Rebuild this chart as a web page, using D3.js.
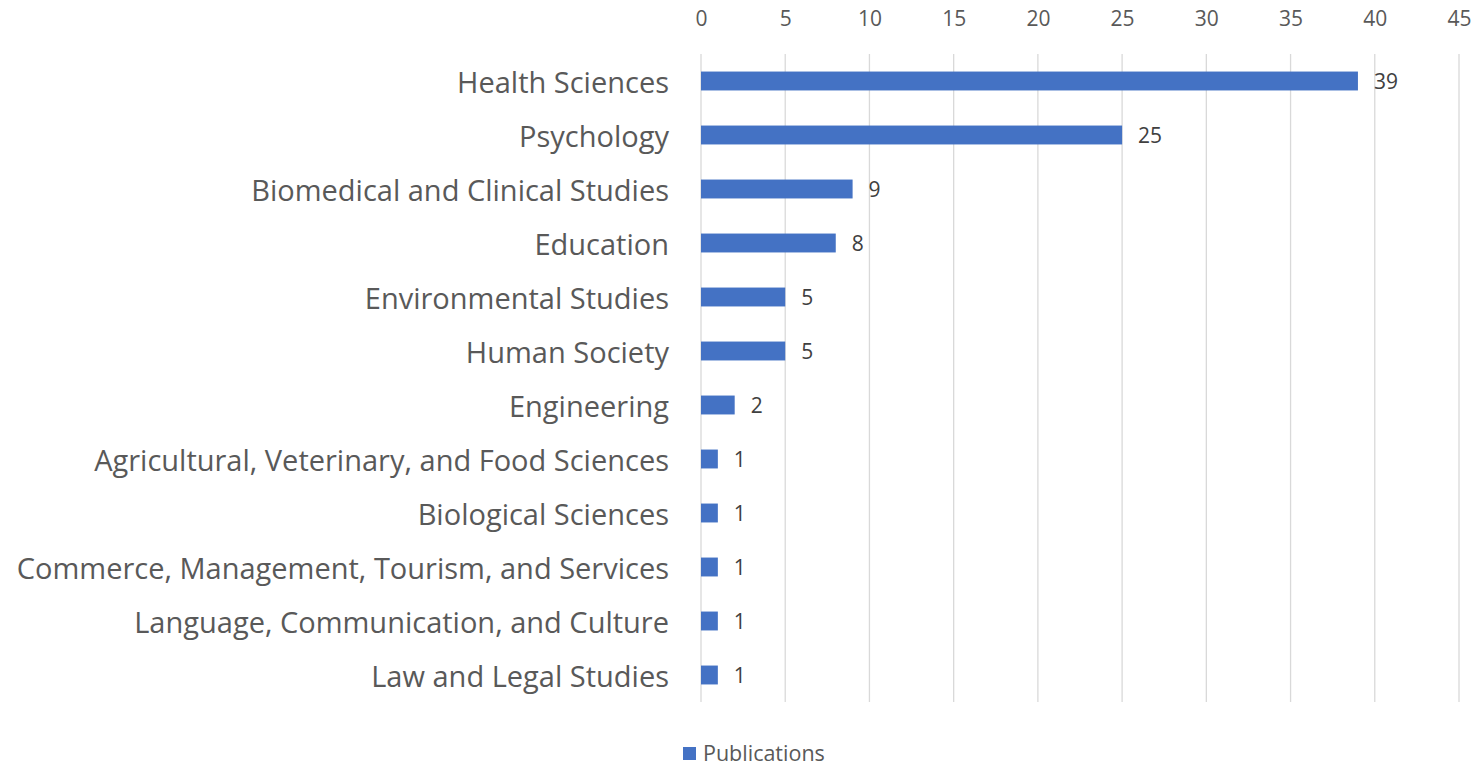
<!DOCTYPE html>
<html>
<head>
<meta charset="utf-8">
<script src="https://cdn.jsdelivr.net/npm/d3@7"></script>
<style>
  html, body { margin: 0; padding: 0; background: #fff; }
  svg { display: block; font-family: "Open Sans", sans-serif; }
</style>
</head>
<body>
<svg id="chart" width="1482" height="767"></svg>
<script>
// Publications by field of research
const categories = [
  "Health Sciences",
  "Psychology",
  "Biomedical and Clinical Studies",
  "Education",
  "Environmental Studies",
  "Human Society",
  "Engineering",
  "Agricultural, Veterinary, and Food Sciences",
  "Biological Sciences",
  "Commerce, Management, Tourism, and Services",
  "Language, Communication, and Culture",
  "Law and Legal Studies"
];
const publications = [39, 25, 9, 8, 5, 5, 2, 1, 1, 1, 1, 1];
const xTicks = [0, 5, 10, 15, 20, 25, 30, 35, 40, 45];
const seriesName = "Publications";

const svg = d3.select("#chart");
const margin = { left: 701, right: 23, top: 54, bottom: 65 };
const W = 1482, H = 767;

const x = d3.scaleLinear().domain([0, 45]).range([margin.left, W - margin.right]);
const y = d3.scaleBand().domain(categories).range([margin.top, H - margin.bottom]).paddingInner(0.65).paddingOuter(0.325);

// vertical gridlines
svg.append("g").selectAll("line").data(xTicks).join("line")
  .attr("x1", d => x(d)).attr("x2", d => x(d))
  .attr("y1", margin.top).attr("y2", H - margin.bottom)
  .attr("stroke", "#d9d9d9").attr("stroke-width", 1.3);

// top axis labels
const axis = d3.axisTop(x).tickValues(xTicks).tickSize(0).tickPadding(0);
const gAxis = svg.append("g").attr("transform", `translate(0, 26)`).call(axis);
gAxis.select(".domain").remove();
gAxis.selectAll("text").attr("font-size", 21).attr("fill", "#595959").attr("font-family", "Open Sans, sans-serif");

// category labels
const yAxis = d3.axisLeft(y).tickSize(0).tickPadding(32);
const gY = svg.append("g").attr("transform", `translate(${margin.left}, 0)`).call(yAxis);
gY.select(".domain").remove();
gY.selectAll("text").attr("font-size", 29).attr("dy", "0.4em").attr("fill", "#595959").attr("font-family", "Open Sans, sans-serif");

// bars
svg.append("g").selectAll("rect").data(categories).join("rect")
  .attr("x", x(0))
  .attr("y", d => y(d))
  .attr("width", (d, i) => x(publications[i]) - x(0))
  .attr("height", y.bandwidth())
  .attr("fill", "#4472C4");

// value labels
svg.append("g").selectAll("text").data(categories).join("text")
  .attr("x", (d, i) => x(publications[i]) + 16)
  .attr("y", d => y(d) + y.bandwidth() / 2)
  .attr("dy", "0.38em")
  .attr("font-size", 21)
  .attr("fill", "#404040")
  .text((d, i) => publications[i]);

// legend
const lg = svg.append("g").attr("transform", "translate(683, 753)");
lg.append("rect").attr("x", 0).attr("y", -6).attr("width", 13).attr("height", 13).attr("fill", "#4472C4");
lg.append("text").attr("x", 20).attr("y", 0).attr("dy", "0.35em")
  .attr("font-size", 21.5).attr("fill", "#595959").text(seriesName);
</script>
</body>
</html>
